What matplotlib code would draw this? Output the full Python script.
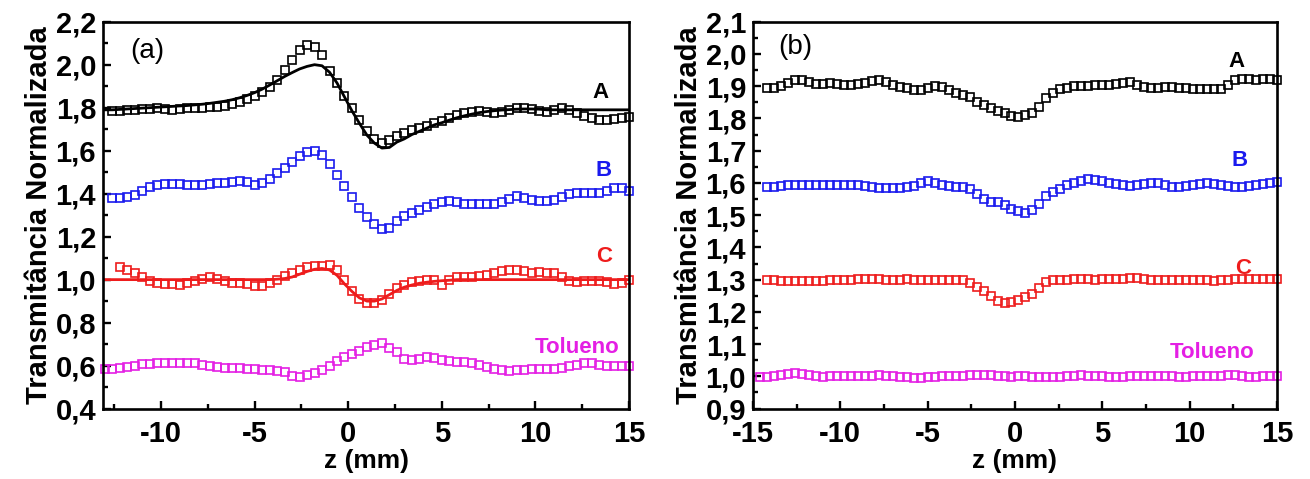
import matplotlib
matplotlib.use("Agg")
import matplotlib.pyplot as plt
from matplotlib.ticker import MultipleLocator, FuncFormatter

plt.rcParams['font.family'] = ['Liberation Sans', 'DejaVu Sans']
plt.rcParams['font.weight'] = 'bold'
plt.rcParams['axes.unicode_minus'] = False

# ---------------- Panel (a) data ----------------
z_a = [-13.0, -12.6, -12.2, -11.8, -11.4, -11.0, -10.6, -10.2, -9.8, -9.4,
       -9.0, -8.6, -8.2, -7.8, -7.4, -7.0, -6.6, -6.2, -5.8, -5.4,
       -5.0, -4.6, -4.2, -3.8, -3.4, -3.0, -2.6, -2.2, -1.8, -1.4,
       -1.0, -0.6, -0.2, 0.2, 0.6, 1.0, 1.4, 1.8, 2.2, 2.6,
       3.0, 3.4, 3.8, 4.2, 4.6, 5.0, 5.4, 5.8, 6.2, 6.6,
       7.0, 7.4, 7.8, 8.2, 8.6, 9.0, 9.4, 9.8, 10.2, 10.6,
       11.0, 11.4, 11.8, 12.2, 12.6, 13.0, 13.4, 13.8, 14.2, 14.6, 15.0]

# sample A (squares), from z = -12.6
a_A = [1.785, 1.785, 1.79, 1.79, 1.795, 1.795, 1.80, 1.795, 1.79,
       1.795, 1.80, 1.80, 1.80, 1.805, 1.805, 1.81, 1.815, 1.826, 1.84,
       1.855, 1.871, 1.895, 1.93, 1.975, 2.02, 2.07, 2.09, 2.08, 2.045,
       1.97, 1.915, 1.855, 1.80, 1.742, 1.69, 1.655, 1.635, 1.65, 1.668,
       1.68, 1.695, 1.705, 1.715, 1.727, 1.738, 1.75, 1.765, 1.777, 1.782,
       1.786, 1.782, 1.776, 1.78, 1.79, 1.80, 1.80, 1.795, 1.785, 1.782,
       1.79, 1.797, 1.79, 1.775, 1.76, 1.75, 1.744, 1.744, 1.745, 1.75, 1.756]
# fit of A (line), full z_a
fit_A = [1.79, 1.79, 1.792, 1.794, 1.796, 1.798, 1.80, 1.802, 1.804, 1.806,
         1.808, 1.81, 1.813, 1.816, 1.82, 1.825, 1.83, 1.837, 1.846, 1.857,
         1.87, 1.886, 1.905, 1.925, 1.945, 1.963, 1.98, 1.992, 2.0, 1.995,
         1.965, 1.915, 1.85, 1.785, 1.727, 1.672, 1.635, 1.612, 1.615, 1.64,
         1.655, 1.675, 1.69, 1.705, 1.72, 1.73, 1.742, 1.753, 1.762, 1.77,
         1.777, 1.782, 1.786, 1.789, 1.791, 1.793, 1.794, 1.794, 1.793, 1.79,
         1.79, 1.79, 1.79, 1.79, 1.79, 1.79, 1.79, 1.79, 1.79, 1.79, 1.79]
# sample B (squares), from z = -12.6
a_B = [1.38, 1.38, 1.385, 1.395, 1.41, 1.43, 1.44, 1.445, 1.445,
       1.445, 1.44, 1.44, 1.44, 1.445, 1.45, 1.45, 1.455, 1.46, 1.455,
       1.44, 1.45, 1.47, 1.495, 1.52, 1.546, 1.575, 1.595, 1.60, 1.58,
       1.538, 1.485, 1.435, 1.385, 1.335, 1.292, 1.26, 1.235, 1.24, 1.275,
       1.295, 1.31, 1.322, 1.338, 1.35, 1.36, 1.365, 1.36, 1.35, 1.35,
       1.35, 1.352, 1.353, 1.36, 1.375, 1.388, 1.38, 1.37, 1.365, 1.365,
       1.37, 1.385, 1.40, 1.403, 1.403, 1.403, 1.405, 1.41, 1.425, 1.425, 1.411]
# sample C (squares), from z = -12.2
a_C = [1.06, 1.045, 1.03, 1.01, 0.995, 0.985, 0.98, 0.978,
       0.977, 0.985, 0.995, 1.005, 1.013, 1.005, 0.995, 0.985, 0.982, 0.978,
       0.972, 0.97, 0.985, 1.0, 1.015, 1.03, 1.045, 1.06, 1.065, 1.065,
       1.07, 1.045, 1.0, 0.945, 0.91, 0.89, 0.89, 0.905, 0.935, 0.96,
       0.975, 0.99, 0.995, 1.0, 1.0, 0.975, 1.0, 1.01, 1.01, 1.012,
       1.016, 1.02, 1.03, 1.04, 1.045, 1.045, 1.04, 1.03, 1.035, 1.03,
       1.03, 1.01, 0.994, 0.99, 0.993, 0.995, 0.994, 0.99, 0.98, 0.985, 1.0]
# fit of C (line), full z_a
fit_C = [1.0, 1.0, 1.0, 1.0, 1.0, 1.0, 1.0, 1.0, 1.0, 1.0,
         1.0, 1.0, 1.0, 1.0, 1.0, 1.0, 1.0, 1.0, 1.0, 1.0,
         1.0, 1.0, 1.0, 1.002, 1.005, 1.012, 1.025, 1.038, 1.048, 1.052,
         1.045, 1.02, 0.98, 0.945, 0.915, 0.90, 0.90, 0.91, 0.93, 0.95,
         0.965, 0.975, 0.983, 0.988, 0.992, 0.995, 0.997, 1.0, 1.0, 1.0,
         1.0, 1.0, 1.0, 1.0, 1.0, 1.0, 1.0, 1.0, 1.0, 1.0,
         1.0, 1.0, 1.0, 1.0, 1.0, 1.0, 1.0, 1.0, 1.0, 1.0, 1.0]
# toluene (squares), full z_a
a_T = [0.583, 0.585, 0.59, 0.595, 0.60, 0.606, 0.608, 0.61, 0.61, 0.612,
       0.613, 0.614, 0.612, 0.605, 0.60, 0.595, 0.59, 0.59, 0.588, 0.585,
       0.583, 0.58, 0.578, 0.576, 0.57, 0.55, 0.545, 0.555, 0.565, 0.58,
       0.598, 0.62, 0.64, 0.655, 0.67, 0.685, 0.695, 0.705, 0.68, 0.665,
       0.63, 0.625, 0.63, 0.638, 0.635, 0.625, 0.62, 0.618, 0.615, 0.61,
       0.605, 0.595, 0.585, 0.58, 0.577, 0.578, 0.58, 0.582, 0.584, 0.585,
       0.585, 0.59, 0.60, 0.605, 0.61, 0.61, 0.605, 0.60, 0.598, 0.60, 0.60]

# ---------------- Panel (b) data ----------------
z_b = [-15.0, -14.6, -14.2, -13.8, -13.4, -13.0, -12.6, -12.2, -11.8, -11.4,
       -11.0, -10.6, -10.2, -9.8, -9.4, -9.0, -8.6, -8.2, -7.8, -7.4,
       -7.0, -6.6, -6.2, -5.8, -5.4, -5.0, -4.6, -4.2, -3.8, -3.4,
       -3.0, -2.6, -2.2, -1.8, -1.4, -1.0, -0.6, -0.2, 0.2, 0.6,
       1.0, 1.4, 1.8, 2.2, 2.6, 3.0, 3.4, 3.8, 4.2, 4.6,
       5.0, 5.4, 5.8, 6.2, 6.6, 7.0, 7.4, 7.8, 8.2, 8.6,
       9.0, 9.4, 9.8, 10.2, 10.6, 11.0, 11.4, 11.8, 12.2, 12.6,
       13.0, 13.4, 13.8, 14.2, 14.6, 15.0]

# sample A, from z = -14.2
b_A = [1.895, 1.895, 1.90, 1.91, 1.92, 1.918, 1.912, 1.908,
       1.907, 1.91, 1.908, 1.905, 1.905, 1.908, 1.91, 1.915, 1.92, 1.914,
       1.905, 1.898, 1.893, 1.888, 1.888, 1.895, 1.902, 1.898, 1.888, 1.88,
       1.874, 1.865, 1.852, 1.843, 1.832, 1.822, 1.817, 1.807, 1.805, 1.81,
       1.817, 1.835, 1.862, 1.88, 1.89, 1.895, 1.90, 1.90, 1.90, 1.903,
       1.905, 1.905, 1.907, 1.911, 1.913, 1.905, 1.897, 1.895, 1.895, 1.896,
       1.897, 1.895, 1.893, 1.891, 1.89, 1.89, 1.89, 1.892, 1.905, 1.918,
       1.922, 1.922, 1.92, 1.921, 1.922, 1.92]
# sample B, from z = -14.2
b_B = [1.588, 1.588, 1.59, 1.592, 1.594, 1.595, 1.595, 1.595,
       1.594, 1.594, 1.595, 1.595, 1.594, 1.594, 1.59, 1.586, 1.584, 1.583,
       1.584, 1.585, 1.586, 1.59, 1.60, 1.606, 1.60, 1.592, 1.59, 1.588,
       1.586, 1.58, 1.565, 1.55, 1.54, 1.54, 1.53, 1.52, 1.512, 1.508,
       1.515, 1.535, 1.56, 1.572, 1.582, 1.595, 1.60, 1.607, 1.611, 1.61,
       1.605, 1.60, 1.596, 1.594, 1.59, 1.592, 1.596, 1.60, 1.60, 1.595,
       1.587, 1.586, 1.59, 1.595, 1.598, 1.60, 1.598, 1.594, 1.59, 1.586,
       1.587, 1.59, 1.594, 1.598, 1.60, 1.604]
# sample C, from z = -14.2
b_C = [1.298, 1.298, 1.297, 1.296, 1.296, 1.297, 1.297, 1.296,
       1.297, 1.298, 1.30, 1.30, 1.30, 1.301, 1.302, 1.302, 1.301, 1.30,
       1.30, 1.30, 1.301, 1.30, 1.30, 1.299, 1.299, 1.30, 1.30, 1.30,
       1.298, 1.29, 1.278, 1.265, 1.25, 1.235, 1.228, 1.232, 1.236, 1.245,
       1.255, 1.275, 1.292, 1.298, 1.30, 1.30, 1.301, 1.302, 1.301, 1.30,
       1.301, 1.302, 1.302, 1.303, 1.305, 1.305, 1.303, 1.30, 1.30, 1.30,
       1.299, 1.299, 1.30, 1.30, 1.299, 1.298, 1.297, 1.30, 1.30, 1.301,
       1.302, 1.302, 1.301, 1.302, 1.303, 1.302]
# toluene, from z = -14.6
b_T = [0.998, 0.998, 1.0, 1.003, 1.006, 1.01, 1.008, 1.003, 1.0,
       0.999, 1.0, 1.001, 1.0, 1.0, 1.001, 1.002, 1.002, 1.003, 1.002,
       1.0, 0.999, 0.997, 0.996, 0.996, 0.997, 0.999, 1.0, 1.002, 1.002,
       1.0, 1.003, 1.005, 1.004, 1.003, 1.0, 1.0, 0.999, 1.0, 1.0,
       0.999, 0.998, 0.997, 0.997, 0.998, 1.0, 1.002, 1.003, 1.002, 1.001,
       1.0, 0.999, 0.999, 0.999, 1.0, 1.0, 1.0, 1.0, 1.0, 1.0,
       1.0, 0.999, 0.999, 1.0, 1.0, 1.0, 1.0, 1.0, 1.003, 1.004,
       1.001, 0.997, 0.997, 1.0, 1.002, 1.002]

labels = ["A", "B", "C", "Tolueno"]
colors = ["#000000", "#1a1aee", "#ee1c1c", "#e41fe4"]

fig = plt.figure(figsize=(13.1, 4.79), dpi=100)
axa = fig.add_axes([0.0786, 0.147, 0.4016, 0.8077])
axb = fig.add_axes([0.5748, 0.147, 0.4000, 0.8077])


def comma(v, pos):
    return ("%.1f" % v).replace(".", ",")


def style(ax, xmaj, xmin, ymaj, ymin):
    for s in ax.spines.values():
        s.set_linewidth(1.9)
    ax.xaxis.set_major_locator(MultipleLocator(xmaj))
    ax.xaxis.set_minor_locator(MultipleLocator(xmin))
    ax.yaxis.set_major_locator(MultipleLocator(ymaj))
    ax.yaxis.set_minor_locator(MultipleLocator(ymin))
    ax.yaxis.set_major_formatter(FuncFormatter(comma))
    ax.tick_params(which='both', direction='in', top=False, right=False,
                   labelsize=21, width=1.7)
    ax.tick_params(axis='y', pad=5)
    ax.tick_params(axis='x', pad=8)
    ax.tick_params(which='major', length=6)
    ax.tick_params(which='minor', length=3.5)
    for t in ax.get_xticklabels() + ax.get_yticklabels():
        t.set_fontweight('bold')
    ax.set_xlabel("z (mm)", fontsize=19, fontweight='bold', labelpad=1)
    ax.set_ylabel("Transmitância Normalizada", fontsize=21,
                  fontweight='bold', labelpad=2)


mk = dict(marker='s', mfc='none', ms=6.2, mew=1.2, ls='none', clip_on=False)

# panel (a)
axa.plot(z_a, fit_A, color=colors[0], lw=2.0)
axa.plot(z_a, fit_C, color=colors[2], lw=2.0)
axa.plot(z_a[-len(a_A):], a_A, color=colors[0], mec=colors[0], **mk)
axa.plot(z_a[-len(a_B):], a_B, color=colors[1], mec=colors[1], **mk)
axa.plot(z_a[-len(a_C):], a_C, color=colors[2], mec=colors[2], **mk)
axa.plot(z_a[-len(a_T):], a_T, color=colors[3], mec=colors[3], **mk)
axa.set_xlim(-13.1, 15)
axa.set_ylim(0.4, 2.2)
style(axa, 5, 2.5, 0.2, 0.1)
axa.text(-10.75, 2.065, "(a)", fontsize=20, fontweight='normal', ha='center', va='center')
pos_a = [(13.45, 1.87), (13.65, 1.51), (13.65, 1.107), (12.2, 0.683)]
for (x, y), lab, c in zip(pos_a, labels, colors):
    axa.text(x, y, lab, color=c, fontsize=16, fontweight='bold', ha='center', va='center')

# panel (b)
axb.plot(z_b[-len(b_A):], b_A, color=colors[0], mec=colors[0], **mk)
axb.plot(z_b[-len(b_B):], b_B, color=colors[1], mec=colors[1], **mk)
axb.plot(z_b[-len(b_C):], b_C, color=colors[2], mec=colors[2], **mk)
axb.plot(z_b[-len(b_T):], b_T, color=colors[3], mec=colors[3], **mk)
axb.set_xlim(-15, 15)
axb.set_ylim(0.9, 2.1)
style(axb, 5, 2.5, 0.1, 0.05)
axb.text(-12.6, 2.02, "(b)", fontsize=20, fontweight='normal', ha='center', va='center')
pos_b = [(12.66, 1.977), (12.85, 1.668), (13.05, 1.333), (11.3, 1.073)]
for (x, y), lab, c in zip(pos_b, labels, colors):
    axb.text(x, y, lab, color=c, fontsize=16, fontweight='bold', ha='center', va='center')

fig.savefig("out.png", dpi=100)
